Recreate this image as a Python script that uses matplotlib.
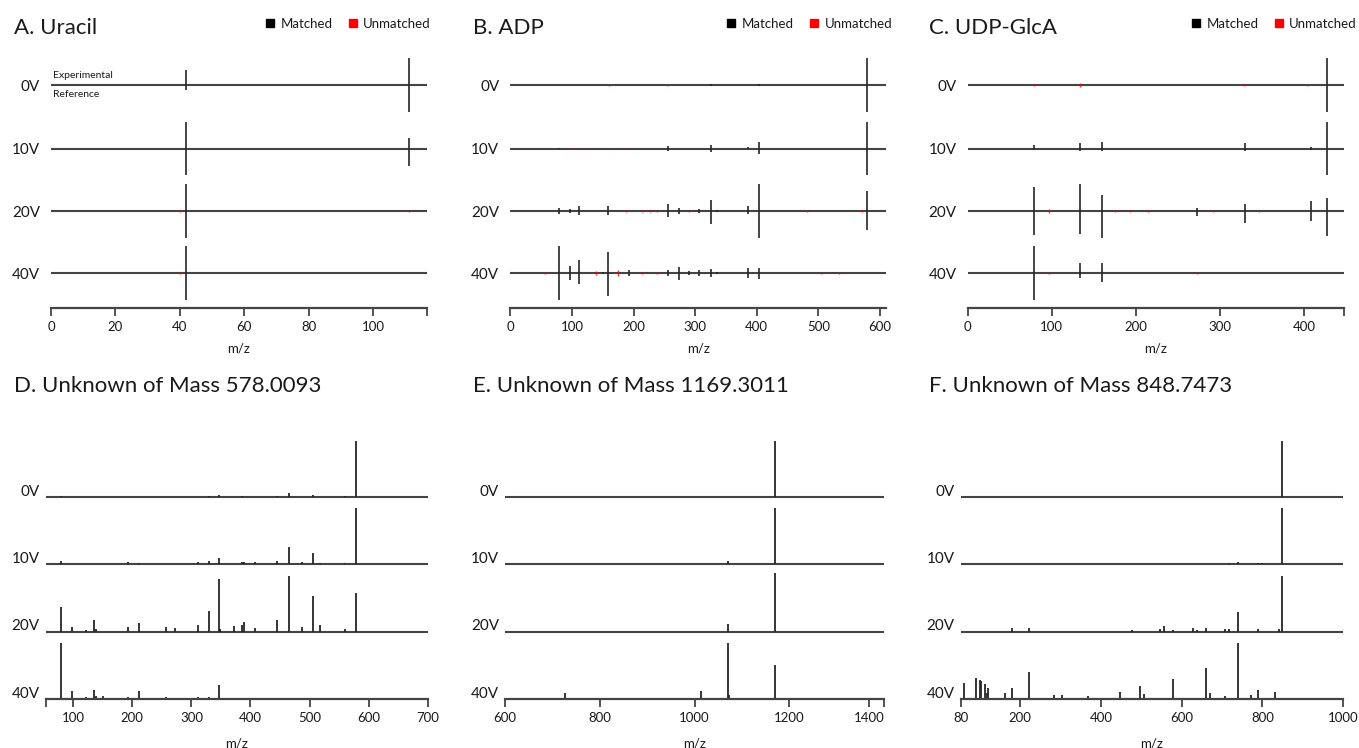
import numpy as np
import matplotlib
matplotlib.use("Agg")
import matplotlib.pyplot as plt
from matplotlib.lines import Line2D

plt.rcParams["font.family"] = ["Lato", "DejaVu Sans"]

VOLTAGES = ["0V", "10V", "20V", "40V"]

# A. Uracil (mirror plot: experimental up, reference down)
a_mz = [42, 111]
a_exp = [[0.58, 1.0], [1.0, 0.41], [1.0, 0.0], [1.0, 0.0]]
a_ref = [[0.17, 1.0], [1.0, 0.64], [1.0, 0.0], [1.0, 0.0]]
a_red_mz = [40, 111]
a_red = [[0, 0], [0, 0], [0.04, 0.04], [0.05, 0]]

# B. ADP
b_mz = [79, 97, 111, 150, 159, 193, 256, 274, 290, 306, 325, 336, 386, 404, 579]
b_exp = [
    [0, 0, 0, 0, 0, 0, 0, 0, 0, 0, 0.05, 0, 0, 0.05, 1.0],
    [0.03, 0, 0, 0, 0, 0, 0.08, 0, 0, 0, 0.12, 0, 0.04, 0.23, 1.0],
    [0.13, 0.06, 0.18, 0, 0.20, 0, 0.28, 0.10, 0, 0.09, 0.43, 0.04, 0.17, 1.0, 0.76],
    [1.0, 0.27, 0.48, 0.05, 0.80, 0.10, 0.13, 0.22, 0.08, 0.12, 0.16, 0.03, 0.17, 0.20, 0],
]
b_ref = [
    [0, 0, 0, 0, 0, 0, 0, 0, 0, 0, 0.03, 0, 0, 0.03, 1.0],
    [0.03, 0, 0, 0, 0, 0, 0.08, 0, 0, 0, 0.12, 0, 0.03, 0.22, 1.0],
    [0.12, 0.06, 0.15, 0, 0.16, 0, 0.22, 0.10, 0, 0.09, 0.47, 0.04, 0.12, 1.0, 0.73],
    [1.0, 0.26, 0.42, 0.05, 0.88, 0.10, 0.10, 0.28, 0.08, 0.12, 0.15, 0.03, 0.19, 0.23, 0],
]
b_red_mz = [57, 97, 111, 139, 160, 175, 187, 213, 226, 238, 255, 290, 481, 505, 533, 570]
b_red = [
    [0, 0, 0, 0, 0.03, 0, 0, 0, 0, 0, 0.03, 0, 0, 0, 0, 0],
    [0, 0.03, 0.03, 0, 0.03, 0, 0.03, 0, 0, 0, 0, 0, 0, 0, 0, 0],
    [0, 0, 0, 0, 0, 0, 0.03, 0.03, 0.03, 0.04, 0, 0.03, 0.03, 0, 0, 0.03],
    [0.03, 0, 0, 0.08, 0, 0.10, 0, 0.04, 0, 0.05, 0, 0, 0, 0.03, 0.03, 0],
]

# C. UDP-GlcA
c_mz = [79, 134, 159, 273, 329, 408, 427]
c_exp = [
    [0, 0, 0, 0, 0, 0, 1.0],
    [0.14, 0.22, 0.26, 0, 0.22, 0.05, 1.0],
    [0.90, 1.0, 0.60, 0.12, 0.26, 0.37, 0.47],
    [1.0, 0.37, 0.37, 0, 0, 0, 0],
]
c_ref = [
    [0, 0, 0, 0, 0, 0, 1.0],
    [0.05, 0.11, 0.09, 0, 0.11, 0.05, 1.0],
    [0.90, 0.88, 1.0, 0.18, 0.45, 0.36, 0.95],
    [1.0, 0.18, 0.33, 0, 0, 0, 0],
]
c_red_mz = [79, 97, 134, 175, 193, 214, 273, 291, 328, 346, 403]
c_red = [
    [0.04, 0, 0.06, 0, 0, 0, 0, 0, 0.05, 0, 0.05],
    [0, 0, 0, 0, 0, 0, 0, 0, 0, 0, 0],
    [0, 0.06, 0, 0.04, 0.03, 0.03, 0, 0.04, 0, 0.04, 0],
    [0, 0.04, 0, 0, 0, 0, 0.03, 0, 0, 0, 0],
]

# D. Unknown of Mass 578.0093
d_mz = [80, 97, 122, 135, 139, 151, 193, 211, 257, 273, 311, 329, 347, 349, 372,
        385, 389, 408, 445, 465, 488, 506, 518, 560, 578]
d_int = [
    [0.02, 0, 0, 0, 0, 0, 0, 0, 0, 0, 0,
     0.02, 0.03, 0, 0, 0.02, 0, 0, 0.02, 0.065, 0, 0.04, 0, 0.02, 1.0],
    [0.05, 0, 0, 0, 0, 0, 0.03, 0.02, 0, 0, 0.03,
     0.05, 0.11, 0, 0, 0.03, 0.03, 0.03, 0.05, 0.30, 0.03, 0.20, 0.02, 0.02, 1.0],
    [0.43, 0.08, 0.03, 0.21, 0.04, 0, 0.08, 0.15, 0.08, 0.06, 0.11,
     0.36, 0.93, 0.05, 0.09, 0.11, 0.17, 0.07, 0.20, 1.0, 0.08, 0.64, 0.11, 0.05, 0.69],
    [1.0, 0.14, 0.02, 0.16, 0.04, 0.04, 0.02, 0.13, 0.02, 0.01, 0.02,
     0.03, 0.25, 0, 0, 0, 0, 0, 0.01, 0.01, 0, 0, 0, 0, 0],
]

# E. Unknown of Mass 1169.3011
e_mz = [727, 1014, 1070, 1073, 1169]
e_int = [
    [0, 0, 0, 0, 1.0],
    [0, 0, 0.05, 0, 1.0],
    [0, 0, 0.14, 0, 1.05],
    [0.09, 0.13, 1.0, 0.07, 0.60],
]

# F. Unknown of Mass 848.7473
f_mz = [60, 90, 100, 103, 114, 118, 120, 163, 181, 222, 285,
        303, 367, 447, 476, 497, 507, 547, 556, 578, 627, 637,
        659, 669, 708, 717, 739, 771, 789, 800, 830, 840, 849]
f_int = [
    [0, 0, 0, 0, 0, 0, 0, 0, 0, 0, 0,
     0, 0, 0, 0, 0, 0, 0, 0, 0, 0, 0,
     0, 0, 0, 0, 0, 0, 0, 0, 0, 0, 1.0],
    [0, 0, 0, 0, 0, 0, 0, 0, 0, 0, 0,
     0, 0, 0, 0, 0, 0, 0, 0, 0, 0, 0,
     0, 0, 0, 0.02, 0.03, 0, 0.02, 0.02, 0, 0, 1.0],
    [0, 0, 0, 0, 0, 0, 0, 0, 0.07, 0.07, 0,
     0, 0, 0, 0.03, 0, 0, 0.04, 0.09, 0.03, 0.06, 0.03,
     0.07, 0, 0.05, 0.05, 0.34, 0, 0.05, 0, 0, 0.05, 1.0],
    [0.28, 0.37, 0.33, 0.31, 0.26, 0.10, 0.19, 0.10, 0.18, 0.48, 0.06,
     0.06, 0.05, 0.11, 0, 0.22, 0.08, 0, 0, 0.34, 0, 0,
     0.54, 0.09, 0.05, 0, 1.0, 0.07, 0.15, 0, 0.12, 0, 0],
]

W, H = 1359, 748
STICK = "#262626"
BASE = "#444444"
TEXT = "#1a1a1a"

fig = plt.figure(figsize=(W / 100, H / 100), dpi=100)


def px_axes(left, right, top, bottom):
    ax = fig.add_axes([left / W, 1 - bottom / H, (right - left) / W, (bottom - top) / H])
    ax.set_ylim(0, bottom - top)  # one data unit per pixel
    return ax


def style(ax, xlim, ticks, labels, labelpad):
    ax.set_xlim(*xlim)
    for s in ["left", "right", "top"]:
        ax.spines[s].set_visible(False)
    ax.spines["bottom"].set_linewidth(1.6)
    ax.spines["bottom"].set_color(BASE)
    ax.set_yticks([])
    ax.set_xticks(ticks)
    ax.set_xticklabels(labels)
    ax.tick_params(axis="x", length=5.5, width=1.3, color=BASE,
                   labelsize=9.5, labelcolor=TEXT, pad=4)
    ax.set_xlabel("m/z", fontsize=9.5, color=TEXT, labelpad=labelpad)


def mirror(ax, mz, exp, ref, red_mz, red, bases, scale=26.7):
    mz = np.array(mz)
    red_mz = np.array(red_mz)
    for i, b in enumerate(bases):
        ax.axhline(b, color=BASE, lw=1.5, zorder=1)
        e, r = np.array(exp[i]), np.array(ref[i])
        k = (e > 0) | (r > 0)
        ax.vlines(mz[k], b - r[k] * scale, b + e[k] * scale, color=STICK, lw=1.2, zorder=2)
        rr = np.array(red[i])
        k = rr > 0
        ax.vlines(red_mz[k], b - rr[k] * scale, b + rr[k] * scale,
                  color="red", lw=1.0, alpha=0.8, zorder=3)
        ax.annotate(VOLTAGES[i], xy=(0, b), xycoords=("axes fraction", "data"),
                    xytext=(-11, -5.7), textcoords="offset pixels",
                    ha="right", va="baseline", fontsize=11, color=TEXT)


def stacked(ax, mz, rows, bases, scale=56):
    mz = np.array(mz)
    for i, b in enumerate(bases):
        if b > 0:
            ax.axhline(b, color=BASE, lw=1.5, zorder=1)
        h = np.array(rows[i])
        k = h > 0
        ax.vlines(mz[k], b, b + h[k] * scale, color=STICK, lw=1.3, zorder=2)
        ax.annotate(VOLTAGES[i], xy=(0, b), xycoords=("axes fraction", "data"),
                    xytext=(-6, 1), textcoords="offset pixels",
                    ha="right", va="baseline", fontsize=11, color=TEXT)


def legend(ax, right_px):
    handles = [Line2D([], [], marker="s", ls="none", color="black", markersize=5.5, label="Matched"),
               Line2D([], [], marker="s", ls="none", color="red", markersize=5.5, label="Unmatched")]
    ax.legend(handles=handles, loc="center right", ncol=2, frameon=False, fontsize=9.5,
              bbox_to_anchor=(right_px / W, 1 - 23.5 / H), bbox_transform=fig.transFigure,
              handletextpad=0.3, columnspacing=1.0, borderpad=0, borderaxespad=0,
              handlelength=1.0, labelcolor=TEXT)


top_bases = [307.5 - y for y in (85, 148.5, 211, 273)]
bot_bases = [698.5 - y for y in (497, 564, 631.5, 698.5)]

# top row
ax = px_axes(51, 426.7, 45, 307.5)
mirror(ax, a_mz, a_exp, a_ref, a_red_mz, a_red, top_bases)
style(ax, (0, 116.6), [0, 20, 40, 60, 80, 100, 116.6],
      ["0", "20", "40", "60", "80", "100", ""], 7)
ax.annotate("Experimental", xy=(0, top_bases[0]), xycoords=("axes fraction", "data"),
            xytext=(2, 9.5), textcoords="offset pixels", va="center", fontsize=7.5, color=TEXT)
ax.annotate("Reference", xy=(0, top_bases[0]), xycoords=("axes fraction", "data"),
            xytext=(2, -9.5), textcoords="offset pixels", va="center", fontsize=7.5, color=TEXT)
legend(ax, 431)

ax = px_axes(510.3, 886, 45, 307.5)
mirror(ax, b_mz, b_exp, b_ref, b_red_mz, b_red, top_bases)
style(ax, (0, 609.7), [0, 100, 200, 300, 400, 500, 600],
      ["0", "100", "200", "300", "400", "500", "600"], 7)
legend(ax, 892)

ax = px_axes(967.7, 1343.7, 45, 307.5)
mirror(ax, c_mz, c_exp, c_ref, c_red_mz, c_red, top_bases)
style(ax, (0, 446.8), [0, 100, 200, 300, 400, 446.8],
      ["0", "100", "200", "300", "400", ""], 7)
legend(ax, 1357)

# bottom row
ax = px_axes(45.7, 427.7, 435, 698.5)
stacked(ax, d_mz, d_int, bot_bases)
style(ax, (53.3, 700), [53.3, 100, 200, 300, 400, 500, 600, 700],
      ["", "100", "200", "300", "400", "500", "600", "700"], 10)

ax = px_axes(505, 884, 435, 698.5)
stacked(ax, e_mz, e_int, bot_bases)
style(ax, (600, 1400), [600, 800, 1000, 1200, 1369, 1400],
      ["600", "800", "1000", "1200", "1400", ""], 10)

ax = px_axes(960.7, 1343.3, 435, 698.5)
stacked(ax, f_mz, f_int, bot_bases)
style(ax, (53, 1000), [53, 200, 400, 600, 800, 1000],
      ["80", "200", "400", "600", "800", "1000"], 10)

titles = [("A. Uracil", 14, 34), ("B. ADP", 473, 34), ("C. UDP-GlcA", 929, 34),
          ("D. Unknown of Mass 578.0093", 14, 392),
          ("E. Unknown of Mass 1169.3011", 473, 392),
          ("F. Unknown of Mass 848.7473", 929, 392)]
for text, x, y in titles:
    fig.text(x / W, 1 - y / H, text, fontsize=16, va="baseline", color=TEXT)

fig.savefig("out.png", dpi=100)
